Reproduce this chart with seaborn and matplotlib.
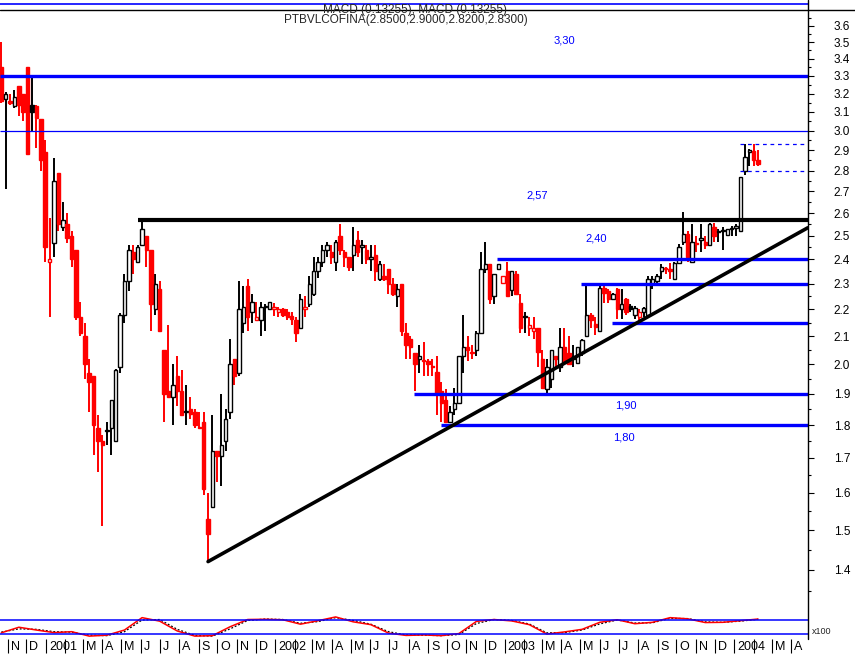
import warnings
warnings.filterwarnings("ignore")

import numpy as np
import pandas as pd
import seaborn as sns
import matplotlib
matplotlib.use("Agg")
import matplotlib.pyplot as plt
import matplotlib.dates as mdates
from matplotlib.lines import Line2D
from matplotlib.ticker import FixedLocator, FormatStrFormatter, NullFormatter
from matplotlib.transforms import ScaledTranslation

# weekly candles
ticker = "PTBVLCOFINA"
first_week = "2000-10-22"

opens = [3.35, 3.17, 3.16, 3.13, 3.24, 3.20, 3.35, 3.14, 3.13, 3.06,
         2.89, 2.39, 2.47, 2.79, 2.54, 2.55, 2.50, 2.44, 2.17, 2.10,
         1.97, 1.96, 1.79, 1.75, 1.78, 1.79, 1.75, 1.99, 2.18, 2.31,
         2.43, 2.39, 2.46, 2.50, 2.44, 2.20, 2.28, 2.05, 1.91, 1.89,
         1.96, 1.91, 1.84, 1.85, 1.84, 1.79, 1.81, 1.53, 1.56, 1.72,
         1.705, 1.75, 1.84, 2.02, 1.97, 2.15, 2.29, 2.19, 2.16, 2.16,
         2.21, 2.20, 2.20, 2.19, 2.20, 2.19, 2.175, 2.16, 2.13, 2.20,
         2.22, 2.26, 2.35, 2.39, 2.44, 2.43, 2.39, 2.50, 2.43, 2.41,
         2.42, 2.48, 2.45, 2.44, 2.40, 2.42, 2.32, 2.33, 2.36, 2.30,
         2.25, 2.30, 2.11, 2.09, 2.04, 2.02, 2.015, 2.01, 1.995, 1.975,
         1.91, 1.88, 1.81, 1.85, 1.87, 2.03, 2.06, 2.04,
         2.05, 2.11, 2.36, 2.38, 2.25, 2.36, 2.305, 2.35, 2.275, 2.34,
         2.225, 2.17, 2.13, 2.12, 2.13, 2.02, 1.915, 1.95, 2.03, 1.99,
         2.06, 2.04, 2.03, 2.005, 2.04, 2.10, 2.18, 2.145, 2.12, 2.285,
         2.27, 2.24, 2.28, 2.20, 2.24, 2.215, 2.18, 2.17, 2.19,
         2.18, 2.30,
         2.31, 2.35, 2.365, 2.36, 2.32, 2.385, 2.475, 2.51, 2.39, 2.47,
         2.48, 2.475, 2.46, 2.54, 2.515, 2.52, 2.505, 2.53, 2.535, 2.52,
         2.80, 2.89, 2.895, 2.85]

highs = [3.50, 3.21, 3.20, 3.22, 3.24, 3.20, 3.35, 3.29, 3.14, 3.06,
         2.95, 2.58, 2.86, 2.79, 2.65, 2.60, 2.52, 2.44, 2.23, 2.15,
         2.02, 1.96, 1.83, 1.77, 1.81, 1.88, 1.985, 2.185, 2.34, 2.46,
         2.46, 2.46, 2.57, 2.50, 2.44, 2.34, 2.31, 2.05, 2.14, 2.00,
         2.03, 1.98, 1.93, 1.89, 1.85, 1.84, 1.84, 1.60, 1.83, 1.72,
         1.90, 1.85, 2.09, 2.02, 2.31, 2.29, 2.32, 2.26, 2.23, 2.23,
         2.22, 2.23, 2.225, 2.21, 2.205, 2.20, 2.19, 2.17, 2.26, 2.25,
         2.33, 2.41, 2.41, 2.46, 2.475, 2.46, 2.48, 2.55, 2.44, 2.41,
         2.54, 2.52, 2.48, 2.46, 2.46, 2.46, 2.395, 2.38, 2.36, 2.325,
         2.30, 2.30, 2.15, 2.10, 2.04, 2.07, 2.08, 2.02, 2.02, 2.03,
         1.94, 1.915, 1.86, 1.92, 2.03, 2.18, 2.10, 2.07,
         2.12, 2.43, 2.475, 2.38, 2.34, 2.38, 2.33, 2.39, 2.35, 2.35,
         2.26, 2.19, 2.17, 2.17, 2.13, 2.05, 2.02, 2.05, 2.03, 2.13,
         2.13, 2.10, 2.07, 2.06, 2.09, 2.30, 2.185, 2.17, 2.29, 2.29,
         2.28, 2.265, 2.285, 2.28, 2.245, 2.22, 2.215, 2.20, 2.21,
         2.33, 2.33,
         2.34, 2.38, 2.37, 2.385, 2.39, 2.465, 2.605, 2.52, 2.55, 2.50,
         2.55, 2.50, 2.555, 2.555, 2.53, 2.54, 2.53, 2.545, 2.55, 2.77,
         2.93, 2.905, 2.93, 2.90]

lows = [3.15, 2.71, 3.14, 3.12, 3.08, 3.05, 2.88, 3.00, 2.91, 2.80,
        2.39, 2.17, 2.41, 2.52, 2.52, 2.47, 2.37, 2.16, 2.10, 1.95,
        1.84, 1.71, 1.66, 1.51, 1.74, 1.71, 1.75, 1.97, 2.15, 2.27,
        2.34, 2.39, 2.46, 2.37, 2.12, 2.18, 2.12, 1.81, 1.89, 1.80,
        1.86, 1.83, 1.80, 1.82, 1.79, 1.79, 1.595, 1.42, 1.56, 1.63,
        1.62, 1.72, 1.82, 1.93, 1.96, 2.11, 2.12, 2.15, 2.155, 2.10,
        2.12, 2.20, 2.175, 2.17, 2.17, 2.16, 2.14, 2.08, 2.13, 2.17,
        2.21, 2.25, 2.325, 2.37, 2.41, 2.38, 2.35, 2.42, 2.37, 2.35,
        2.35, 2.41, 2.38, 2.38, 2.35, 2.31, 2.31, 2.31, 2.26, 2.25,
        2.21, 2.10, 2.02, 2.02, 1.91, 1.97, 1.96, 1.96, 1.96, 1.83,
        1.81, 1.805, 1.805, 1.83, 1.87, 1.97, 2.01, 2.02,
        2.03, 2.11, 2.345, 2.22, 2.22, 2.355, 2.30, 2.25, 2.25, 2.255,
        2.11, 2.11, 2.10, 2.09, 1.99, 1.915, 1.90, 1.92, 1.99, 1.975,
        2.00, 2.00, 1.99, 2.00, 2.03, 2.10, 2.13, 2.105, 2.12, 2.225,
        2.225, 2.24, 2.165, 2.165, 2.18, 2.19, 2.165, 2.155, 2.17,
        2.17, 2.28,
        2.30, 2.32, 2.34, 2.32, 2.32, 2.385, 2.46, 2.39, 2.39, 2.43,
        2.43, 2.445, 2.46, 2.475, 2.475, 2.44, 2.50, 2.50, 2.50, 2.52,
        2.78, 2.82, 2.82, 2.82]

closes = [3.16, 3.20, 3.15, 3.18, 3.14, 3.10, 2.88, 3.10, 3.07, 2.85,
          2.45, 2.40, 2.75, 2.55, 2.57, 2.49, 2.40, 2.17, 2.11, 2.00,
          1.94, 1.80, 1.75, 1.74, 1.785, 1.88, 1.98, 2.18, 2.31, 2.44,
          2.40, 2.45, 2.53, 2.44, 2.22, 2.30, 2.12, 1.90, 1.89, 1.93,
          1.91, 1.83, 1.845, 1.835, 1.80, 1.795, 1.61, 1.49, 1.72, 1.705,
          1.74, 1.82, 2.00, 1.96, 2.20, 2.21, 2.17, 2.23, 2.17, 2.21,
          2.215, 2.23, 2.21, 2.20, 2.18, 2.17, 2.165, 2.11, 2.24, 2.21,
          2.30, 2.35, 2.39, 2.44, 2.46, 2.41, 2.475, 2.44, 2.41, 2.37,
          2.46, 2.43, 2.46, 2.40, 2.41, 2.35, 2.38, 2.32, 2.30, 2.26,
          2.28, 2.12, 2.07, 2.06, 2.00, 2.03, 2.01, 2.00, 1.99, 1.90,
          1.87, 1.81, 1.84, 1.87, 2.03, 2.06, 2.05, 2.045,
          2.11, 2.36, 2.38, 2.24, 2.34, 2.38, 2.33, 2.25, 2.35, 2.26,
          2.13, 2.175, 2.14, 2.13, 2.045, 1.92, 1.99, 2.05, 2.02, 2.06,
          2.005, 2.00, 2.02, 2.06, 2.085, 2.18, 2.16, 2.135, 2.285, 2.265,
          2.24, 2.26, 2.20, 2.22, 2.19, 2.20, 2.205, 2.19, 2.205,
          2.32, 2.32,
          2.33, 2.37, 2.36, 2.35, 2.385, 2.45, 2.51, 2.41, 2.475, 2.465,
          2.49, 2.46, 2.55, 2.50, 2.52, 2.525, 2.53, 2.535, 2.545, 2.77,
          2.865, 2.90, 2.85, 2.83]

# support / resistance lines drawn by the analyst
support_levels = [3.30, 3.00, 2.57, 2.40, 2.30, 2.15, 1.90, 1.80]
support_starts = ["2000-10-20", "2000-10-20", "2001-05-27", "2002-12-19",
                  "2003-05-03", "2003-06-20", "2002-08-09", "2002-09-21"]
label_levels = [3.30, 2.57, 2.40, 1.90, 1.80]
label_dates = ["2003-04-06", "2003-02-21", "2003-05-26", "2003-07-12", "2003-07-09"]

trend_dates = ["2001-09-16", "2004-04-27"]
trend_values = [1.42, 2.535]

range_levels = [2.93, 2.80]
range_start = "2004-01-11"

macd_value = 0.13255

# oscillator in the lower panel, one value every 4 weeks
osc_fast = [25, 49, 37, 26, 30, 11, 15, 37, 90, 75,
            33, 11, 13, 51, 82, 83, 81, 62, 77, 93,
            72, 60, 24, 14, 16, 13, 22, 74, 82, 76,
            60, 20, 29, 40, 70, 81, 64, 70, 90, 85,
            69, 70, 77, 84]
osc_slow = [28, 42, 40, 30, 28, 15, 13, 30, 80, 82,
            40, 14, 11, 42, 78, 84, 82, 66, 73, 90,
            78, 62, 30, 16, 15, 13, 18, 65, 82, 78,
            63, 25, 26, 37, 63, 80, 67, 68, 87, 86,
            72, 70, 75, 83]
osc_bands = [20, 80]

view_start = "2000-10-20"
view_end = "2004-04-27 10:00"

# ---- drawing ----
sns.set_theme(style="white")
plt.rcParams["font.family"] = ["Liberation Sans", "DejaVu Sans"]

W, H = 855, 654
BLUE = "#0000ff"
RED = "#ff0000"

fig = plt.figure(figsize=(W / 100, H / 100), dpi=100)


def box(x0, y0, x1, y1):
    # pixel box measured from the top-left corner
    return [x0 / W, 1 - y1 / H, (x1 - x0) / W, (y1 - y0) / H]


ax = fig.add_axes(box(0, 10, 808, 603))
ax_osc = fig.add_axes(box(0, 605, 808, 638.7))
ax_top = fig.add_axes(box(0, 0, 808, 10))

df = pd.DataFrame({"open": opens, "high": highs, "low": lows, "close": closes})
df["date"] = pd.date_range(first_week, periods=len(df), freq="7D")
xs = mdates.date2num(df["date"])
x_left = mdates.date2num(pd.Timestamp(view_start))
x_right = mdates.date2num(pd.Timestamp(view_end))

# hollow candles: red when close < previous close, filled when close < open
prev = df["close"].shift(1).fillna(df["open"])
col = np.where(df["close"] < prev, RED, "#000000")
face = np.where(df["close"] >= df["open"], "white", col)
ax.set_yscale("log")
ax.vlines(xs, df["low"], df["high"], colors=col, lw=1.4, zorder=3)
lo = np.minimum(df["open"], df["close"])
ht = np.maximum((df["close"] - df["open"]).abs(), 0.004)
ax.bar(xs, ht, width=5.6, bottom=lo, color=face, edgecolor=col,
       linewidth=1.0, zorder=4)

# horizontal levels
for lev, start in zip(support_levels, support_starts):
    if lev == 2.57:
        c, lw = "black", 3.0
    elif lev == 3.00:
        c, lw = BLUE, 0.9
    else:
        c, lw = BLUE, 2.4
    ax.hlines(lev, mdates.date2num(pd.Timestamp(start)), x_right,
              colors=c, lw=lw, zorder=5)

label_offset = {3.30: 35, 2.57: 24, 2.40: 21, 1.90: -12, 1.80: -12}
for lev, d in zip(label_levels, label_dates):
    ax.annotate(f"{lev:.2f}".replace(".", ","),
                xy=(mdates.date2num(pd.Timestamp(d)), lev),
                xytext=(0, label_offset[lev]), textcoords="offset pixels",
                ha="center", va="center", color=BLUE, fontsize=8)

ax.hlines(range_levels, mdates.date2num(pd.Timestamp(range_start)), x_right,
          colors=BLUE, lw=0.9, linestyles=(0, (3, 3)), zorder=5)

sns.lineplot(x=mdates.date2num(pd.to_datetime(trend_dates)), y=trend_values,
             ax=ax, color="black", lw=2.6, zorder=6)

ax.set_xlim(x_left, x_right)
ax.set_ylim(1.3215, 3.70)
major = np.round(np.arange(1.4, 3.61, 0.1), 2)
minor = np.round(np.arange(1.35, 3.70, 0.1), 2)
ax.yaxis.set_major_locator(FixedLocator(major))
ax.yaxis.set_major_formatter(FormatStrFormatter("%.1f"))
ax.yaxis.set_minor_locator(FixedLocator(minor))
ax.yaxis.set_minor_formatter(NullFormatter())
ax.yaxis.tick_right()
ax.tick_params(axis="y", which="both", right=True, left=False,
               labelright=True, labelleft=False, colors="black", width=0.8)
ax.tick_params(axis="y", which="major", length=4.5, pad=14, labelsize=8.5)
ax.tick_params(axis="y", which="minor", length=2.5)
ax.set_xticks([])
ax.set(xlabel=None, ylabel=None)

# oscillator panel
osc_x = xs[::4]
sns.lineplot(x=osc_x, y=osc_slow, ax=ax_osc, color="black", lw=0.9,
             linestyle=(0, (1.5, 1.5)))
sns.lineplot(x=osc_x, y=osc_fast, ax=ax_osc, color=RED, lw=1.1)
for b in osc_bands:
    ax_osc.axhline(b, color=BLUE, lw=1.1)
ax_osc.set_xlim(x_left, x_right)
ax_osc.set_ylim(0, 144)
ax_osc.set_yticks([])
ax_osc.set(xlabel=None, ylabel=None)

months = pd.date_range("2000-11-01", "2004-04-01", freq="MS")
initials = "JFMAMJJASOND"
month_labels = [str(m.year) if m.month == 1 else ("" if m.month == 2 else initials[m.month - 1])
                for m in months]
ax_osc.set_xticks(mdates.date2num(months))
ax_osc.set_xticklabels(month_labels)
ax_osc.tick_params(axis="x", which="major", bottom=True, labelbottom=True,
                   direction="out", length=10, width=0.8, pad=-8,
                   labelsize=9, colors="black")
shift = ScaledTranslation(0.03, 0, fig.dpi_scale_trans)
for lab in ax_osc.get_xticklabels():
    lab.set_horizontalalignment("left")
    lab.set_transform(lab.get_transform() + shift)

# cut-off indicator strip at the top
ax_top.axhline(0.65, color=BLUE, lw=1.2)
ax_top.set_xlim(x_left, x_right)
ax_top.set_ylim(0, 1)
ax_top.set_xticks([])
ax_top.set_yticks([])

for a in (ax, ax_osc, ax_top):
    for s in a.spines.values():
        s.set_visible(False)
    a.set_facecolor("none")

fig.add_artist(Line2D([0, 1], [1 - 10 / H] * 2, transform=fig.transFigure,
                      color="black", lw=1.0))
fig.add_artist(Line2D([808 / W] * 2, [1 - 638.7 / H, 1], transform=fig.transFigure,
                      color="black", lw=1.0))

last = df.iloc[-1]
fig.text(415 / W, 1 - 9.5 / H, f"MACD ({macd_value}), MACD ({macd_value})",
         ha="center", va="center", fontsize=8.5)
fig.text(406 / W, 1 - 20.5 / H,
         f"{ticker}({last.open:.4f},{last.high:.4f},{last.low:.4f},{last.close:.4f})",
         ha="center", va="center", fontsize=8.5)
fig.text(812 / W, 1 - 632 / H, "x100", ha="left", va="center", fontsize=6.5)

fig.savefig("out.png", dpi=100)
